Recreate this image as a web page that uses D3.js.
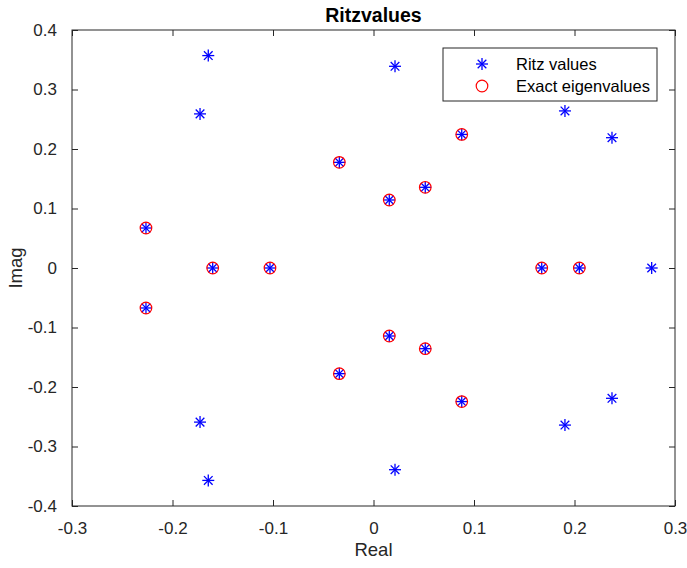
<!DOCTYPE html>
<html>
<head>
<meta charset="utf-8">
<script src="https://cdn.jsdelivr.net/npm/d3@7"></script>
<style>
  body { margin: 0; background: #fff; }
  svg { display: block; font-family: "Liberation Sans", Arial, Helvetica, sans-serif; }
</style>
</head>
<body>
<div id="chart"></div>
<script>
// Ritz values (blue asterisks)
const ritzReal = [-0.1644, -0.1644, -0.1726, -0.1726, 0.0214, 0.0214, 0.1905, 0.1905, 0.2373, 0.2373, 0.2768,
                  -0.2264, -0.2264, -0.1600, -0.1030, -0.0340, -0.0340, 0.0157, 0.0157, 0.0515, 0.0515, 0.0878, 0.0878, 0.1674, 0.2048];
const ritzImag = [0.357, -0.357, 0.259, -0.259, 0.339, -0.339, 0.264, -0.264, 0.219, -0.219, 0,
                  0.0672, -0.0672, 0, 0, 0.1776, -0.1776, 0.1143, -0.1143, 0.1356, -0.1356, 0.2245, -0.2245, 0, 0];

// Exact eigenvalues (red circles)
const exactReal = [-0.2264, -0.2264, -0.1600, -0.1030, -0.0340, -0.0340, 0.0157, 0.0157, 0.0515, 0.0515, 0.0878, 0.0878, 0.1674, 0.2048];
const exactImag = [0.0672, -0.0672, 0, 0, 0.1776, -0.1776, 0.1143, -0.1143, 0.1356, -0.1356, 0.2245, -0.2245, 0, 0];

const xTicks = [-0.3, -0.2, -0.1, 0, 0.1, 0.2, 0.3];
const yTicks = [-0.4, -0.3, -0.2, -0.1, 0, 0.1, 0.2, 0.3, 0.4];
const legendLabels = ["Ritz values", "Exact eigenvalues"];

(function () {
  const W = 687, H = 568;
  const mL = 72, mR = 675, mT = 30, mB = 506;
  const ink = "#262626";

  const x = d3.scaleLinear().domain([-0.3, 0.3]).range([mL, mR]);
  const y = d3.scaleLinear().domain([-0.4, 0.4]).range([mB, mT]);

  const svg = d3.select("#chart").append("svg")
    .attr("width", W).attr("height", H);

  // axes box
  svg.append("rect")
    .attr("x", mL).attr("y", mT)
    .attr("width", mR - mL).attr("height", mB - mT)
    .attr("fill", "#fff").attr("stroke", ink).attr("stroke-width", 1);

  const fmt = d => d === 0 ? "0" : d3.format(".1f")(d).replace("\u2212", "-");

  // all four sides, ticks pointing inward
  const xb = svg.append("g").attr("transform", `translate(0,${mB})`)
    .call(d3.axisBottom(x).tickValues(xTicks).tickSize(-6).tickPadding(16).tickFormat(fmt));
  const xt = svg.append("g").attr("transform", `translate(0,${mT})`)
    .call(d3.axisTop(x).tickValues(xTicks).tickSize(-6).tickFormat(""));
  const yl = svg.append("g").attr("transform", `translate(${mL},0)`)
    .call(d3.axisLeft(y).tickValues(yTicks).tickSize(-6).tickPadding(15).tickFormat(fmt));
  const yr = svg.append("g").attr("transform", `translate(${mR},0)`)
    .call(d3.axisRight(y).tickValues(yTicks).tickSize(-6).tickFormat(""));

  [xb, xt, yl, yr].forEach(g => {
    g.select(".domain").remove();
    g.selectAll(".tick line").attr("stroke", ink).attr("stroke-width", 1);
    g.selectAll(".tick text").attr("fill", ink).attr("font-size", 17)
      .attr("font-family", "Liberation Sans, Arial, sans-serif");
  });

  // asterisk marker
  function star(g, r) {
    const d = r * 0.72;
    g.append("line").attr("x1", -r).attr("x2", r).attr("y1", 0).attr("y2", 0);
    g.append("line").attr("x1", 0).attr("x2", 0).attr("y1", -r).attr("y2", r);
    g.append("line").attr("x1", -d).attr("x2", d).attr("y1", -d).attr("y2", d);
    g.append("line").attr("x1", -d).attr("x2", d).attr("y1", d).attr("y2", -d);
  }

  const ritz = ritzReal.map((v, i) => [v, ritzImag[i]]);
  const exact = exactReal.map((v, i) => [v, exactImag[i]]);

  svg.append("g").selectAll("g")
    .data(ritz).join("g")
    .attr("transform", d => `translate(${x(d[0])},${y(d[1])})`)
    .attr("stroke", "#0000ff").attr("stroke-width", 1.3)
    .each(function () { star(d3.select(this), 6); });

  svg.append("g").selectAll("circle")
    .data(exact).join("circle")
    .attr("cx", d => x(d[0])).attr("cy", d => y(d[1]))
    .attr("r", 5.8)
    .attr("fill", "none").attr("stroke", "#ff0000").attr("stroke-width", 1.2);

  // legend
  const lg = svg.append("g");
  lg.append("rect").attr("x", 443).attr("y", 48).attr("width", 214).attr("height", 53)
    .attr("fill", "#fff").attr("stroke", ink).attr("stroke-width", 1);
  const s = lg.append("g").attr("transform", "translate(482,64)")
    .attr("stroke", "#0000ff").attr("stroke-width", 1.3);
  star(s, 6);
  lg.append("circle").attr("cx", 482).attr("cy", 86).attr("r", 5.8)
    .attr("fill", "none").attr("stroke", "#ff0000").attr("stroke-width", 1.2);
  lg.selectAll("text.leg").data(legendLabels).join("text")
    .attr("class", "leg")
    .attr("x", 516).attr("y", (d, i) => 64 + i * 22)
    .attr("dy", "0.35em")
    .attr("font-size", 16.5).attr("fill", "#000")
    .text(d => d);

  // title and axis labels
  svg.append("text").attr("x", (mL + mR) / 2).attr("y", 22)
    .attr("text-anchor", "middle").attr("font-size", 19.5).attr("font-weight", "bold")
    .attr("fill", "#000").text("Ritzvalues");
  svg.append("text").attr("x", (mL + mR) / 2).attr("y", 556)
    .attr("text-anchor", "middle").attr("font-size", 18.5).attr("fill", ink).text("Real");
  svg.append("text").attr("transform", `translate(22,${(mT + mB) / 2}) rotate(-90)`)
    .attr("text-anchor", "middle").attr("font-size", 18.5).attr("fill", ink).text("Imag");
})();
</script>
</body>
</html>
